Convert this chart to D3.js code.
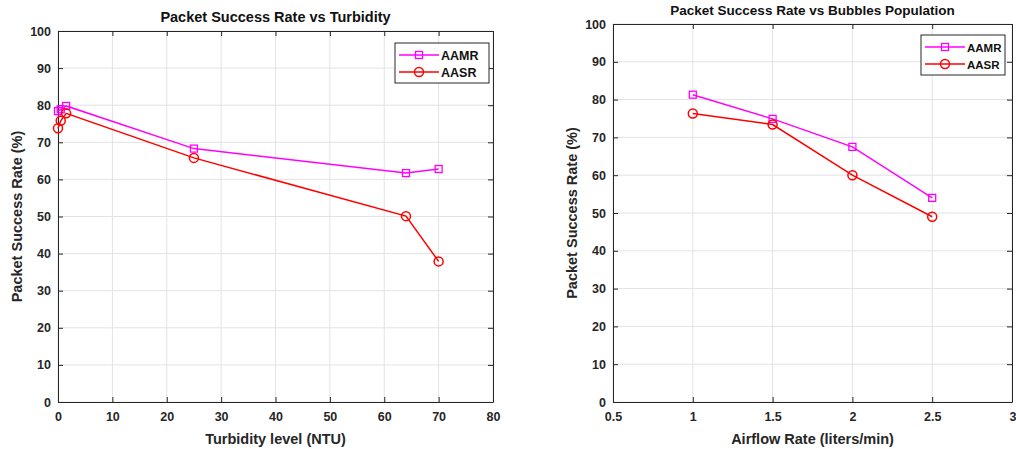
<!DOCTYPE html>
<html>
<head>
<meta charset="utf-8">
<script src="https://cdn.jsdelivr.net/npm/d3@7"></script>
<style>
  body { margin: 0; background: #fff; }
  svg { font-family: "Liberation Sans", Arial, sans-serif; }
</style>
</head>
<body>
<div id="chart"></div>
<script>
// turbidity chart data
const turbidity = [0, 0.5, 1.5, 25, 64, 70];
const turbAAMR = [78.4, 78.9, 79.8, 68.3, 61.7, 62.8];
const turbAASR = [73.8, 75.8, 77.8, 65.8, 50.1, 37.9];

// bubbles chart data
const airflow = [1, 1.5, 2, 2.5];
const airAAMR = [81.3, 74.9, 67.5, 54.0];
const airAASR = [76.3, 73.4, 60.0, 49.0];

const yTicks = [0, 10, 20, 30, 40, 50, 60, 70, 80, 90, 100];
const turbTicks = [0, 10, 20, 30, 40, 50, 60, 70, 80];
const airTicks = [0.5, 1, 1.5, 2, 2.5, 3];
const seriesNames = ['AAMR', 'AASR'];
const colors = { AAMR: '#ff00ff', AASR: '#ff0000' };

const svg = d3.select('#chart')
    .append('svg')
    .attr('width', 1016)
    .attr('height', 449);

function drawPanel(opts) {
    const { left, right, top, bottom } = opts;
    const x = d3.scaleLinear().domain(opts.xDomain).range([left, right]);
    const y = d3.scaleLinear().domain([0, 100]).range([bottom, top]);
    const g = svg.append('g');

    // grid
    g.append('g').selectAll('line.gx')
        .data(opts.xTicks)
        .join('line')
        .attr('x1', d => x(d)).attr('x2', d => x(d))
        .attr('y1', top).attr('y2', bottom)
        .attr('stroke', '#e3e3e3').attr('stroke-width', 1);
    g.append('g').selectAll('line.gy')
        .data(yTicks)
        .join('line')
        .attr('y1', d => y(d)).attr('y2', d => y(d))
        .attr('x1', left).attr('x2', right)
        .attr('stroke', '#e3e3e3').attr('stroke-width', 1);

    // axes (ticks pointing inward, matlab style)
    const tickStyle = a => a.selectAll('text')
        .attr('font-size', 12.5).attr('font-weight', 'bold').attr('fill', '#262626');
    const xAxis = g.append('g')
        .attr('transform', `translate(0,${bottom})`)
        .call(d3.axisBottom(x).tickValues(opts.xTicks).tickFormat(d3.format('~g'))
            .tickSizeInner(-5).tickSizeOuter(0).tickPadding(10))
        .call(tickStyle);
    // keep the last label inside the window
    xAxis.selectAll('.tick text').filter(d => x(d) > 1005).attr('text-anchor', 'end').attr('dx', 4);
    g.append('g')
        .attr('transform', `translate(${left},0)`)
        .call(d3.axisLeft(y).tickValues(yTicks).tickSizeInner(-5).tickSizeOuter(0).tickPadding(7))
        .call(tickStyle);
    g.append('g')
        .attr('transform', `translate(0,${top})`)
        .call(d3.axisTop(x).tickValues(opts.xTicks).tickSizeInner(-5).tickSizeOuter(0).tickFormat(''));
    g.append('g')
        .attr('transform', `translate(${right},0)`)
        .call(d3.axisRight(y).tickValues(yTicks).tickSizeInner(-5).tickSizeOuter(0).tickFormat(''));
    g.selectAll('.domain').attr('stroke', '#262626');
    g.selectAll('.tick line').attr('stroke', '#262626');

    // series
    const series = [
        { name: 'AAMR', values: opts.aamr },
        { name: 'AASR', values: opts.aasr }
    ];
    const line = d3.line().x(d => x(d[0])).y(d => y(d[1]));
    series.forEach(s => {
        const pts = opts.xs.map((v, i) => [v, s.values[i]]);
        g.append('path')
            .datum(pts)
            .attr('d', line)
            .attr('fill', 'none')
            .attr('stroke', colors[s.name])
            .attr('stroke-width', 1.5);
        if (s.name === 'AAMR') {
            g.append('g').selectAll('rect')
                .data(pts)
                .join('rect')
                .attr('x', d => x(d[0]) - 3.5).attr('y', d => y(d[1]) - 3.5)
                .attr('width', 7).attr('height', 7)
                .attr('fill', 'none').attr('stroke', colors.AAMR).attr('stroke-width', 1.3);
        } else {
            g.append('g').selectAll('circle')
                .data(pts)
                .join('circle')
                .attr('cx', d => x(d[0])).attr('cy', d => y(d[1]))
                .attr('r', 4.5)
                .attr('fill', 'none').attr('stroke', colors.AASR).attr('stroke-width', 1.5);
        }
    });

    // title and labels
    g.append('text')
        .attr('x', (left + right) / 2).attr('y', top - 9)
        .attr('text-anchor', 'middle')
        .attr('font-size', opts.titleSize).attr('font-weight', 'bold').attr('fill', '#111')
        .text(opts.title);
    g.append('text')
        .attr('x', (left + right) / 2).attr('y', bottom + 42)
        .attr('text-anchor', 'middle')
        .attr('font-size', 14.5).attr('font-weight', 'bold').attr('fill', '#262626')
        .text(opts.xLabel);
    g.append('text')
        .attr('transform', `translate(${left - 36},${(top + bottom) / 2}) rotate(-90)`)
        .attr('text-anchor', 'middle')
        .attr('font-size', 14.5).attr('font-weight', 'bold').attr('fill', '#262626')
        .text('Packet Success Rate (%)');

    // legend
    const lg = g.append('g').attr('transform', `translate(${opts.legend[0]},${opts.legend[1]})`);
    lg.append('rect')
        .attr('width', opts.legend[2]).attr('height', 40)
        .attr('fill', '#fff').attr('stroke', '#262626').attr('stroke-width', 1);
    seriesNames.forEach((name, i) => {
        const yy = 12 + i * 17;
        lg.append('line')
            .attr('x1', 4).attr('x2', 44).attr('y1', yy).attr('y2', yy)
            .attr('stroke', colors[name]).attr('stroke-width', 1.5);
        if (name === 'AAMR') {
            lg.append('rect').attr('x', 20.5).attr('y', yy - 3.5).attr('width', 7).attr('height', 7)
                .attr('fill', 'none').attr('stroke', colors[name]).attr('stroke-width', 1.3);
        } else {
            lg.append('circle').attr('cx', 24).attr('cy', yy).attr('r', 4.5)
                .attr('fill', 'none').attr('stroke', colors[name]).attr('stroke-width', 1.5);
        }
        lg.append('text')
            .attr('x', 46).attr('y', yy + 4.5)
            .attr('font-size', opts.legendSize).attr('font-weight', 'bold').attr('fill', '#111')
            .text(name);
    });
}

drawPanel({
    left: 58, right: 493, top: 31, bottom: 402,
    xDomain: [0, 80], xTicks: turbTicks,
    xs: turbidity, aamr: turbAAMR, aasr: turbAASR,
    title: 'Packet Success Rate vs Turbidity', titleSize: 14.5,
    xLabel: 'Turbidity level (NTU)',
    legend: [395, 43, 94], legendSize: 12.5
});

drawPanel({
    left: 613, right: 1012, top: 24, bottom: 402,
    xDomain: [0.5, 3], xTicks: airTicks,
    xs: airflow, aamr: airAAMR, aasr: airAASR,
    title: 'Packet Success Rate vs Bubbles Population', titleSize: 13.5,
    xLabel: 'Airflow Rate (liters/min)',
    legend: [921, 35, 84], legendSize: 11.5
});
</script>
</body>
</html>
